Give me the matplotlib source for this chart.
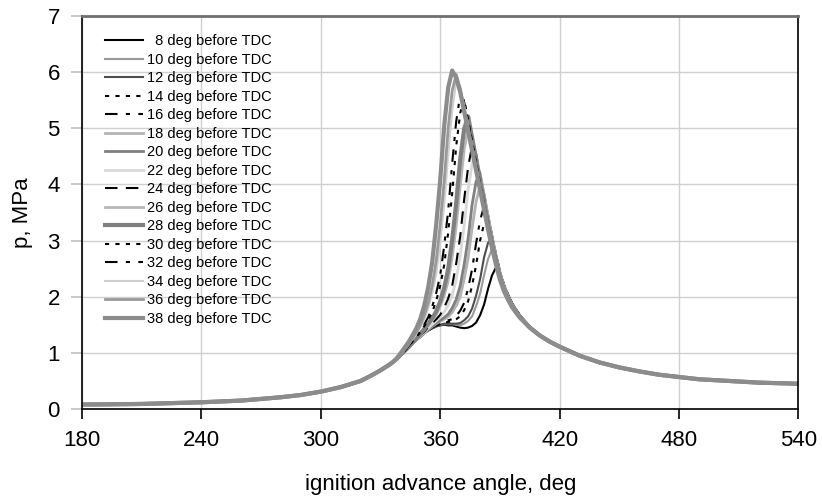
import matplotlib
matplotlib.use("Agg")
import matplotlib.pyplot as plt

plt.rcParams['font.family'] = ['Liberation Sans', 'DejaVu Sans']

# ---------------- data ----------------
advances = [8, 10, 12, 14, 16, 18, 20, 22, 24, 26, 28, 30, 32, 34, 36, 38]
labels = ["\u2007%d deg before TDC" % a if a < 10 else "%d deg before TDC" % a for a in advances]

# common compression part
ang_head = [180, 190, 200, 210, 220, 230, 240, 250, 260, 270, 280, 290, 300, 310, 320, 325, 330, 334]
p_head = [0.08, 0.082, 0.086, 0.09, 0.10, 0.11, 0.12, 0.135, 0.15, 0.18, 0.21, 0.25, 0.31, 0.39, 0.50, 0.59, 0.69, 0.78]

# combustion region (per series)
ang_comb = [336, 338, 340, 342, 344, 346, 348, 350, 352, 354, 356, 358, 360, 362, 364, 366,
            368, 370, 372, 374, 376, 378, 380, 382, 384, 386, 388, 390, 392, 394, 396, 398, 400,
            405, 410, 415, 420]

p_38 = [0.83, 0.90, 0.99, 1.09, 1.19, 1.31, 1.44, 1.61, 1.85, 2.18, 2.63, 3.30, 4.09, 5.05, 5.73, 6.03,
        5.90, 5.65, 5.30, 4.95, 4.60, 4.25, 3.90, 3.55, 3.20, 2.87, 2.57, 2.30, 2.10, 1.95, 1.82, 1.72, 1.63,
        1.45, 1.31, 1.20, 1.11]
p_36 = [0.83, 0.89, 0.97, 1.06, 1.15, 1.26, 1.37, 1.49, 1.67, 1.90, 2.21, 2.65, 3.30, 4.07, 5.01, 5.67,
        5.96, 5.70, 5.35, 4.99, 4.63, 4.27, 3.92, 3.56, 3.21, 2.88, 2.57, 2.30, 2.10, 1.95, 1.82, 1.72, 1.63,
        1.45, 1.31, 1.20, 1.11]
p_34 = [0.83, 0.89, 0.97, 1.05, 1.14, 1.24, 1.34, 1.46, 1.60, 1.80, 2.07, 2.41, 2.97, 3.65, 4.53, 5.32,
        5.83, 5.76, 5.40, 5.04, 4.67, 4.31, 3.94, 3.58, 3.22, 2.89, 2.58, 2.31, 2.10, 1.95, 1.82, 1.72, 1.63,
        1.45, 1.31, 1.20, 1.11]
p_32 = [0.83, 0.89, 0.96, 1.04, 1.12, 1.21, 1.30, 1.40, 1.51, 1.64, 1.83, 2.07, 2.39, 2.91, 3.54, 4.38,
        5.12, 5.59, 5.47, 5.10, 4.73, 4.35, 3.98, 3.62, 3.25, 2.90, 2.59, 2.31, 2.11, 1.96, 1.82, 1.72, 1.63,
        1.45, 1.31, 1.20, 1.11]
p_30 = [0.83, 0.89, 0.96, 1.03, 1.11, 1.20, 1.28, 1.37, 1.48, 1.59, 1.73, 1.93, 2.20, 2.57, 3.15, 3.84,
        4.68, 5.27, 5.52, 5.15, 4.77, 4.39, 4.01, 3.64, 3.27, 2.92, 2.61, 2.32, 2.12, 1.96, 1.83, 1.72, 1.63,
        1.45, 1.31, 1.20, 1.11]
p_28 = [0.83, 0.89, 0.96, 1.03, 1.10, 1.18, 1.25, 1.34, 1.43, 1.52, 1.62, 1.74, 1.92, 2.16, 2.50, 3.02,
        3.66, 4.44, 4.99, 5.21, 4.83, 4.45, 4.07, 3.69, 3.30, 2.95, 2.63, 2.34, 2.13, 1.97, 1.83, 1.73, 1.63,
        1.45, 1.31, 1.20, 1.11]
p_26 = [0.83, 0.89, 0.96, 1.03, 1.10, 1.18, 1.25, 1.32, 1.41, 1.50, 1.58, 1.68, 1.83, 2.02, 2.28, 2.71,
        3.25, 3.96, 4.61, 5.01, 4.87, 4.49, 4.10, 3.71, 3.33, 2.97, 2.64, 2.35, 2.14, 1.97, 1.84, 1.73, 1.64,
        1.45, 1.31, 1.20, 1.11]
p_24 = [0.83, 0.89, 0.96, 1.03, 1.10, 1.17, 1.24, 1.31, 1.38, 1.46, 1.53, 1.60, 1.68, 1.81, 1.97, 2.20,
        2.59, 3.07, 3.73, 4.31, 4.69, 4.54, 4.15, 3.76, 3.37, 3.01, 2.68, 2.38, 2.16, 1.99, 1.84, 1.74, 1.64,
        1.45, 1.31, 1.20, 1.11]
p_22 = [0.83, 0.89, 0.96, 1.03, 1.10, 1.17, 1.23, 1.30, 1.37, 1.44, 1.51, 1.57, 1.64, 1.73, 1.85, 2.03,
        2.30, 2.73, 3.26, 3.91, 4.37, 4.55, 4.17, 3.78, 3.40, 3.03, 2.69, 2.39, 2.17, 2.00, 1.85, 1.74, 1.65,
        1.45, 1.31, 1.20, 1.11]
p_20 = [0.83, 0.89, 0.96, 1.03, 1.10, 1.17, 1.23, 1.29, 1.36, 1.42, 1.48, 1.53, 1.58, 1.63, 1.69, 1.80,
        1.95, 2.19, 2.57, 3.04, 3.64, 4.05, 4.20, 3.82, 3.43, 3.07, 2.73, 2.42, 2.19, 2.02, 1.87, 1.75, 1.65,
        1.46, 1.31, 1.20, 1.11]
p_18 = [0.83, 0.89, 0.96, 1.03, 1.10, 1.17, 1.23, 1.29, 1.35, 1.41, 1.47, 1.52, 1.56, 1.60, 1.64, 1.72,
        1.84, 2.00, 2.31, 2.69, 3.22, 3.69, 3.98, 3.82, 3.44, 3.07, 2.73, 2.43, 2.20, 2.02, 1.87, 1.76, 1.65,
        1.46, 1.31, 1.20, 1.11]
p_16 = [0.83, 0.89, 0.96, 1.03, 1.10, 1.17, 1.23, 1.29, 1.35, 1.40, 1.45, 1.49, 1.53, 1.55, 1.58, 1.60,
        1.66, 1.75, 1.89, 2.15, 2.49, 2.95, 3.36, 3.61, 3.45, 3.09, 2.76, 2.45, 2.22, 2.04, 1.89, 1.77, 1.66,
        1.46, 1.31, 1.20, 1.11]
p_14 = [0.83, 0.89, 0.96, 1.03, 1.10, 1.17, 1.23, 1.29, 1.35, 1.40, 1.45, 1.48, 1.52, 1.54, 1.55, 1.57,
        1.60, 1.65, 1.76, 1.92, 2.20, 2.56, 3.00, 3.30, 3.42, 3.07, 2.74, 2.44, 2.21, 2.04, 1.89, 1.77, 1.67,
        1.46, 1.31, 1.20, 1.11]
p_12 = [0.83, 0.89, 0.96, 1.03, 1.10, 1.17, 1.23, 1.29, 1.35, 1.40, 1.44, 1.48, 1.50, 1.52, 1.52, 1.52,
        1.52, 1.53, 1.58, 1.65, 1.79, 2.02, 2.31, 2.70, 2.96, 3.05, 2.73, 2.44, 2.22, 2.04, 1.89, 1.78, 1.67,
        1.46, 1.31, 1.20, 1.11]
p_10 = [0.83, 0.89, 0.96, 1.03, 1.10, 1.17, 1.23, 1.29, 1.35, 1.40, 1.44, 1.47, 1.50, 1.51, 1.51, 1.51,
        1.50, 1.49, 1.52, 1.57, 1.65, 1.83, 2.05, 2.38, 2.67, 2.85, 2.70, 2.42, 2.20, 2.03, 1.88, 1.77, 1.67,
        1.46, 1.31, 1.20, 1.11]
p_08 = [0.83, 0.89, 0.96, 1.03, 1.10, 1.17, 1.23, 1.29, 1.35, 1.40, 1.44, 1.47, 1.49, 1.50, 1.49, 1.49,
        1.47, 1.45, 1.44, 1.45, 1.48, 1.54, 1.67, 1.86, 2.14, 2.38, 2.52, 2.40, 2.18, 2.02, 1.88, 1.77, 1.67,
        1.47, 1.32, 1.20, 1.11]

# common expansion tail
ang_tail = [430, 440, 450, 460, 470, 480, 490, 500, 510, 520, 530, 540]
p_tail = [0.95, 0.83, 0.74, 0.67, 0.61, 0.57, 0.53, 0.51, 0.49, 0.47, 0.46, 0.45]

series = [p_08, p_10, p_12, p_14, p_16, p_18, p_20, p_22, p_24, p_26, p_28, p_30, p_32, p_34, p_36, p_38]

x_ticks = [180, 240, 300, 360, 420, 480, 540]
y_ticks = [0, 1, 2, 3, 4, 5, 6, 7]

# ---------------- styles ----------------
styles = [
    dict(color='black', lw=1.5, ls='-'),                      # 8
    dict(color='#9a9a9a', lw=1.5, ls='-'),                    # 10
    dict(color='#4d4d4d', lw=1.5, ls='-'),                    # 12
    dict(color='black', lw=1.5, ls=(0, (2, 3))),              # 14
    dict(color='black', lw=1.5, ls=(0, (6, 4, 2, 4))),        # 16
    dict(color='#b3b3b3', lw=2.0, ls='-'),                    # 18
    dict(color='#808080', lw=2.0, ls='-'),                    # 20
    dict(color='#d9d9d9', lw=2.0, ls='-'),                    # 22
    dict(color='black', lw=1.5, ls=(0, (6, 4))),              # 24
    dict(color='#b8b8b8', lw=2.0, ls='-'),                    # 26
    dict(color='#808080', lw=3.0, ls='-'),                    # 28
    dict(color='black', lw=1.5, ls=(0, (2, 3))),              # 30
    dict(color='black', lw=1.5, ls=(0, (6, 4, 2, 4))),        # 32
    dict(color='#cfcfcf', lw=1.5, ls='-'),                    # 34
    dict(color='#999999', lw=2.0, ls='-'),                    # 36
    dict(color='#8c8c8c', lw=3.0, ls='-'),                    # 38
]

# ---------------- figure ----------------
fig = plt.figure(figsize=(8.22, 5.01), dpi=100)
ax = fig.add_axes([0.0998, 0.1836, 0.8716, 0.7844])

for lab, pc, st in zip(labels, series, styles):
    x = ang_head + ang_comb + ang_tail
    y = p_head + pc + p_tail
    ax.plot(x, y, label=lab, color=st['color'], lw=st['lw'], ls=st['ls'],
            solid_joinstyle='round')

ax.set_xlim(180, 540)
ax.set_ylim(0, 7)
ax.set_xticks(x_ticks)
ax.set_yticks(y_ticks)
ax.grid(True, color='#d0d0d0', lw=1.0)
ax.set_axisbelow(True)

for side in ['left', 'right', 'bottom']:
    ax.spines[side].set_color('black')
    ax.spines[side].set_linewidth(1.2)
ax.spines['top'].set_color('#707070')
ax.spines['top'].set_linewidth(2.0)

ax.tick_params(axis='x', direction='out', length=7, width=1.2, color='black',
               labelsize=16, pad=8)
ax.tick_params(axis='y', direction='out', length=8, width=1.2, color='#c0c0c0',
               labelsize=16, pad=8)

ax.set_xlabel('ignition advance angle, deg', fontsize=16, labelpad=17)
ax.set_ylabel('p, MPa', fontsize=16, labelpad=10)

leg = ax.legend(loc='upper left', bbox_to_anchor=(0.018, 0.98), frameon=False,
                fontsize=10.5, handlelength=2.6, handletextpad=0.3,
                labelspacing=0.31, borderpad=0.2)

fig.savefig('out.png', dpi=100)
